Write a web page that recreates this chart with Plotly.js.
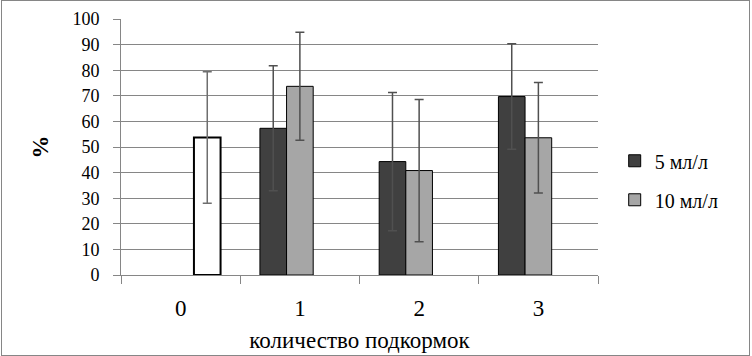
<!DOCTYPE html>
<html>
<head>
<meta charset="utf-8">
<script src="https://cdn.plot.ly/plotly-3.0.1.min.js"></script>
<style>
  #chart text, #chart tspan { font-family: 'Liberation Serif', serif !important; }
  .fontwarm { position: absolute; left: -9999px; top: 0; font-family: 'Liberation Serif'; font-size: 23px; }
</style>
</head>
<body style="margin:0">
<span class="fontwarm">0123456789 количество подкормок мл/л <b>%</b></span>
<div style="position:relative;width:752px;height:356px">
  <div id="chart"></div>
  <div style="position:absolute;left:1px;top:0px;width:747px;height:354px;border:1px solid #868686;pointer-events:none"></div>
</div>
<script>
// Data
var categories = ['0', '1', '2', '3'];
var seriesNames = ['5 мл/л', '10 мл/л', 'контроль'];

var dose5 = [null, 57.3, 44.3, 69.7];
var dose5Err = [null, 24.4, 27.0, 20.6];

var dose10 = [null, 73.7, 40.8, 53.6];
var dose10Err = [null, 21.1, 27.8, 21.6];

var control = [53.7, null, null, null];
var controlErr = [25.7, null, null, null];

function buildTraces() {
  return [
    {
      type: 'bar', name: seriesNames[0], x: categories, y: dose5,
      legendgroup: 'a',
      marker: { color: '#404040', line: { color: '#000', width: 1 } },
      error_y: { type: 'data', array: dose5Err, visible: true, color: '#505050', thickness: 1.5, width: 4.5 }
    },
    {
      type: 'bar', name: seriesNames[1], x: categories, y: dose10,
      legendgroup: 'b',
      marker: { color: '#a6a6a6', line: { color: '#000', width: 1 } },
      error_y: { type: 'data', array: dose10Err, visible: true, color: '#505050', thickness: 1.5, width: 4.5 }
    },
    {
      type: 'bar', name: seriesNames[2], x: categories, y: control,
      showlegend: false,
      marker: { color: '#ffffff', line: { color: '#000', width: 2 } },
      error_y: { type: 'data', array: controlErr, visible: true, color: '#6e6e6e', thickness: 1.5, width: 4.5 }
    }
  ];
}

function buildLayout() {
  return {
    width: 752, height: 356,
    margin: { l: 121, r: 154, t: 19, b: 81, pad: 0 },
    paper_bgcolor: '#fff', plot_bgcolor: '#fff',
    barmode: 'group', bargap: 0.33, bargroupgap: 0,
    showlegend: true,
    font: { family: 'Liberation Serif', color: '#000' },
    xaxis: {
      type: 'category',
      tickson: 'boundaries',
      ticks: 'outside', ticklen: 8, tickcolor: '#868686', tickwidth: 1,
      showline: true, linecolor: '#868686', linewidth: 1,
      showgrid: false, zeroline: false,
      tickfont: { family: 'Liberation Serif', size: 23, color: '#000' },
      ticklabelstandoff: 12,
      title: { text: 'количество подкормок', font: { family: 'Liberation Serif', size: 23, color: '#000' }, standoff: 12 }
    },
    yaxis: {
      range: [0, 100], dtick: 10, tick0: 0,
      ticks: 'outside', ticklen: 7, tickcolor: '#868686', tickwidth: 1,
      showline: true, linecolor: '#868686', linewidth: 1,
      showgrid: true, gridcolor: '#868686', gridwidth: 1,
      zeroline: false,
      tickfont: { family: 'Liberation Serif', size: 18, color: '#000' },
      ticklabelstandoff: 10,
      title: { text: '<b>%</b>', font: { family: 'Liberation Serif', size: 23, color: '#000' }, standoff: 17 }
    },
    legend: {
      x: 1.035, xanchor: 'left', y: 0.37, yanchor: 'middle',
      traceorder: 'grouped', tracegroupgap: 10,
      font: { family: 'Liberation Serif', size: 20, color: '#000' },
      itemwidth: 30, bgcolor: 'rgba(0,0,0,0)'
    }
  };
}

var config = { displayModeBar: false, staticPlot: true };

function draw() {
  Plotly.newPlot('chart', buildTraces(), buildLayout(), config);
}

// draw now, and again once the serif font is surely loaded
draw();
if (document.fonts && document.fonts.load) {
  Promise.all([
    document.fonts.load('23px "Liberation Serif"', 'количество 0123'),
    document.fonts.load('bold 23px "Liberation Serif"', '%')
  ]).then(draw, draw);
}
</script>
</body>
</html>
